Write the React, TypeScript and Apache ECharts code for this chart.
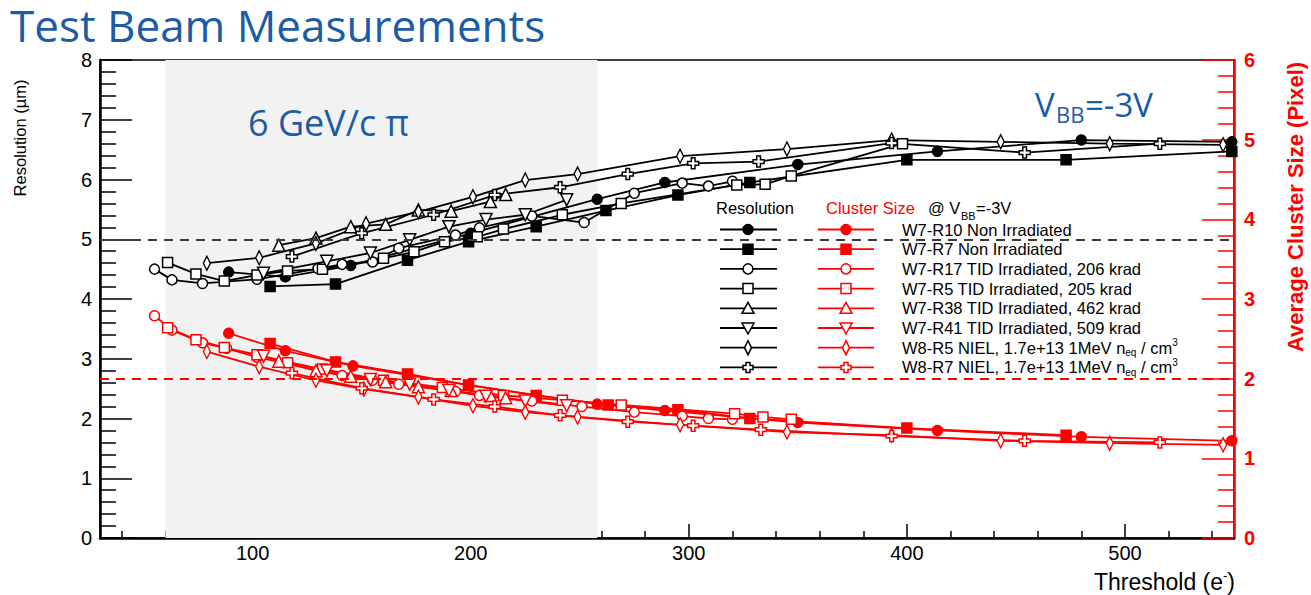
import React, { useEffect, useRef } from 'react';
import * as echarts from 'echarts';

// ---------- data ----------
const xTicks = [100, 200, 300, 400, 500];
const xMinorTicks = [40, 60, 80, 120, 140, 160, 180, 220, 240, 260, 280, 320, 340, 360, 380, 420, 440, 460, 480, 520, 540];
const shadedRange = [60, 258];
const resolutionCut = 5;
const clusterCut = 2;

// Resolution (um), left axis
const resR10 = [[89, 4.45], [115, 4.37], [145, 4.56], [200, 5.10], [258, 5.67], [289, 5.95], [350, 6.25], [414, 6.47], [480, 6.66], [549, 6.63]];
const resR7 = [[108, 4.21], [138, 4.25], [171, 4.65], [199, 4.96], [230, 5.21], [262, 5.48], [295, 5.74], [328, 5.95], [400, 6.33], [473, 6.33], [549, 6.47]];
const resR17 = [[55, 4.50], [63, 4.32], [77, 4.26], [102, 4.33], [130, 4.51], [141, 4.58], [155, 4.62], [167, 4.85], [193, 5.07], [204, 5.19], [228, 5.39], [252, 5.28], [275, 5.77], [297, 5.94], [309, 5.89], [320, 5.97]];
const resR5 = [[61, 4.61], [74, 4.42], [87, 4.30], [102, 4.40], [116, 4.47], [132, 4.50], [160, 4.68], [174, 4.79], [188, 4.96], [203, 5.04], [215, 5.17], [242, 5.41], [269, 5.60], [322, 5.91], [335, 5.92], [347, 6.06], [398, 6.60]];
const resR38 = [[112, 4.90], [129, 5.02], [145, 5.21], [161, 5.25], [176, 5.49], [191, 5.47], [209, 5.63], [216, 5.75]];
const resR41 = [[105, 4.43], [134, 4.63], [154, 4.77], [172, 4.99], [190, 5.21], [207, 5.33], [225, 5.41], [244, 5.66]];
const resW8R5 = [[79, 4.60], [103, 4.69], [129, 4.93], [152, 5.26], [176, 5.46], [201, 5.71], [225, 5.99], [249, 6.09], [296, 6.39], [345, 6.51], [393, 6.66], [443, 6.63], [493, 6.60], [545, 6.58]];
const resW8R7 = [[118, 4.71], [150, 5.10], [183, 5.41], [211, 5.74], [241, 5.87], [272, 6.09], [302, 6.27], [332, 6.30], [393, 6.61], [454, 6.45], [516, 6.60]];

// Average cluster size (pixel), right axis
const csR10 = [[89, 2.57], [115, 2.35], [146, 2.16], [199, 1.92], [258, 1.68], [289, 1.60], [350, 1.45], [414, 1.35], [480, 1.27], [549, 1.22]];
const csR7 = [[108, 2.44], [138, 2.21], [171, 2.06], [199, 1.92], [230, 1.79], [263, 1.67], [295, 1.61], [328, 1.50], [400, 1.38], [473, 1.29]];
const csR17 = [[55, 2.79], [63, 2.61], [77, 2.45], [88, 2.38], [102, 2.27], [130, 2.10], [141, 2.04], [155, 1.98], [167, 1.93], [193, 1.84], [204, 1.79], [228, 1.72], [251, 1.65], [275, 1.58], [297, 1.53], [309, 1.50], [320, 1.49]];
const csR5 = [[61, 2.64], [74, 2.49], [87, 2.39], [102, 2.30], [116, 2.20], [132, 2.12], [160, 1.98], [187, 1.89], [215, 1.79], [242, 1.73], [269, 1.67], [321, 1.56], [334, 1.52], [347, 1.49]];
const csR38 = [[112, 2.22], [129, 2.10], [145, 2.03], [161, 1.96], [176, 1.90], [191, 1.85], [209, 1.79], [216, 1.76]];
const csR41 = [[105, 2.28], [134, 2.10], [154, 1.99], [172, 1.93], [190, 1.85], [207, 1.78], [225, 1.72], [244, 1.66]];
const csW8R5 = [[79, 2.34], [103, 2.15], [129, 1.98], [151, 1.87], [176, 1.77], [201, 1.66], [225, 1.58], [249, 1.52], [296, 1.42], [345, 1.33], [393, 1.29], [443, 1.22], [493, 1.19], [545, 1.17]];
const csW8R7 = [[118, 2.07], [150, 1.88], [183, 1.74], [211, 1.65], [241, 1.54], [272, 1.46], [302, 1.41], [333, 1.36], [393, 1.28], [454, 1.22], [516, 1.20]];

const sampleNames = [
  'W7-R10 Non Irradiated',
  'W7-R7 Non Irradiated',
  'W7-R17 TID Irradiated, 206 krad',
  'W7-R5 TID Irradiated, 205 krad',
  'W7-R38 TID Irradiated, 462 krad',
  'W7-R41 TID Irradiated, 509 krad',
  'W8-R5 NIEL, 1.7e+13 1MeV n',
  'W8-R7 NIEL, 1.7e+13 1MeV n',
];
const sampleMarkers = ['fc', 'fs', 'oc', 'os', 'tu', 'td', 'di', 'cr'];
const resolutionData = [resR10, resR7, resR17, resR5, resR38, resR41, resW8R5, resW8R7];
const clusterData = [csR10, csR7, csR17, csR5, csR38, csR41, csW8R5, csW8R7];

// ---------- style ----------
const FONT = '"Liberation Sans", Arial, Helvetica, sans-serif';
const TITLE_FONT = '"Open Sans", "Noto Sans", sans-serif';
const BLUE = '#1c5ca6';
const RED = '#ff0000';
const BLACK = '#000000';
const CROSS_PATH = 'path://M4,0L8,0L8,4L12,4L12,8L8,8L8,12L4,12L4,8L0,8L0,4L4,4Z';

function symbolFor(kind: string) {
  switch (kind) {
    case 'fc': return { symbol: 'circle', symbolSize: 10, filled: true };
    case 'fs': return { symbol: 'rect', symbolSize: 10, filled: true };
    case 'oc': return { symbol: 'circle', symbolSize: 10, filled: false };
    case 'os': return { symbol: 'rect', symbolSize: 10, filled: false };
    case 'tu': return { symbol: 'triangle', symbolSize: 12, filled: false };
    case 'td': return { symbol: 'triangle', symbolSize: 12, filled: false, rotate: 180 };
    case 'di': return { symbol: 'diamond', symbolSize: [7, 14], filled: false };
    default: return { symbol: CROSS_PATH, symbolSize: 11, filled: false };
  }
}

function makeSeries(name: string, data: number[][], kind: string, color: string, yAxisIndex: number, z: number) {
  const s = symbolFor(kind);
  return {
    type: 'line',
    name,
    data,
    xAxisIndex: 0,
    yAxisIndex,
    z,
    symbol: s.symbol,
    symbolSize: s.symbolSize,
    symbolRotate: (s as any).rotate || 0,
    showSymbol: true,
    showAllSymbol: true,
    clip: true,
    silent: true,
    lineStyle: { color, width: 1.8 },
    itemStyle: { color: s.filled ? color : '#ffffff', borderColor: color, borderWidth: 1.5, opacity: 1 },
  };
}

function legendMarker(kind: string, cx: number, cy: number, color: string): any {
  const filled = kind === 'fc' || kind === 'fs';
  const style = { fill: filled ? color : '#ffffff', stroke: color, lineWidth: 1.5 };
  switch (kind) {
    case 'fc':
    case 'oc':
      return { type: 'circle', shape: { cx, cy, r: 5 }, style, z: 101 };
    case 'fs':
    case 'os':
      return { type: 'rect', shape: { x: cx - 5, y: cy - 5, width: 10, height: 10 }, style, z: 101 };
    case 'tu':
      return { type: 'polygon', shape: { points: [[cx, cy - 6], [cx + 6, cy + 5], [cx - 6, cy + 5]] }, style, z: 101 };
    case 'td':
      return { type: 'polygon', shape: { points: [[cx, cy + 6], [cx + 6, cy - 5], [cx - 6, cy - 5]] }, style, z: 101 };
    case 'di':
      return { type: 'polygon', shape: { points: [[cx, cy - 7], [cx + 3.5, cy], [cx, cy + 7], [cx - 3.5, cy]] }, style, z: 101 };
    default:
      return {
        type: 'polygon',
        shape: {
          points: [[cx - 2, cy - 5], [cx + 2, cy - 5], [cx + 2, cy - 2], [cx + 5, cy - 2], [cx + 5, cy + 2], [cx + 2, cy + 2],
            [cx + 2, cy + 5], [cx - 2, cy + 5], [cx - 2, cy + 2], [cx - 5, cy + 2], [cx - 5, cy - 2], [cx - 2, cy - 2]],
        },
        style, z: 101,
      };
  }
}

function buildGraphics(): any[] {
  const g: any[] = [];
  // titles
  g.push({ type: 'text', x: 10, y: 25, z: 100, style: { text: 'Test Beam Measurements', font: `44px ${TITLE_FONT}`, lineHeight: 40, fill: BLUE, verticalAlign: 'middle' } });
  g.push({ type: 'text', x: 248, y: 122, z: 100, style: { text: '6 GeV/c \u03c0', font: `36px ${TITLE_FONT}`, fill: BLUE, verticalAlign: 'middle' } });
  g.push({ type: 'text', x: 1035, y: 104, z: 100, style: { text: 'V', font: `33px ${TITLE_FONT}`, fill: BLUE, verticalAlign: 'middle' } });
  g.push({ type: 'text', x: 1056, y: 114, z: 100, style: { text: 'BB', font: `22px ${TITLE_FONT}`, fill: BLUE, verticalAlign: 'middle' } });
  g.push({ type: 'text', x: 1085, y: 104, z: 100, style: { text: '=-3V', font: `33px ${TITLE_FONT}`, fill: BLUE, verticalAlign: 'middle' } });

  // axis titles
  g.push({ type: 'text', x: 20, y: 138, rotation: Math.PI / 2, z: 100, style: { text: 'Resolution (\u00b5m)', font: `16.5px ${FONT}`, fill: BLACK, align: 'center', verticalAlign: 'middle' } });
  g.push({ type: 'text', x: 1295, y: 207, rotation: Math.PI / 2, z: 100, style: { text: 'Average Cluster Size (Pixel)', font: `bold 22px ${FONT}`, fill: RED, align: 'center', verticalAlign: 'middle' } });
  g.push({
    type: 'text', x: 1235, y: 582, z: 100,
    style: {
      text: '{a|Threshold (e}{p|-}{a|)}', align: 'right', verticalAlign: 'middle',
      rich: {
        a: { fontSize: 23, fontFamily: FONT, fill: BLACK, lineHeight: 26, verticalAlign: 'middle' },
        p: { fontSize: 13, fontFamily: FONT, fill: BLACK, lineHeight: 14, verticalAlign: 'top' },
      },
    },
  });

  // legend header
  const hy = 208;
  g.push({ type: 'text', x: 716, y: hy, z: 100, style: { text: 'Resolution', font: `16.5px ${FONT}`, fill: BLACK, verticalAlign: 'middle' } });
  g.push({ type: 'text', x: 826, y: hy, z: 100, style: { text: 'Cluster Size', font: `16.5px ${FONT}`, fill: RED, verticalAlign: 'middle' } });
  g.push({ type: 'text', x: 928, y: hy, z: 100, style: { text: '@ V', font: `16.5px ${FONT}`, fill: BLACK, verticalAlign: 'middle' } });
  g.push({ type: 'text', x: 961, y: hy + 8, z: 100, style: { text: 'BB', font: `11px ${FONT}`, fill: BLACK, verticalAlign: 'middle' } });
  g.push({ type: 'text', x: 976, y: hy, z: 100, style: { text: '=-3V', font: `16.5px ${FONT}`, fill: BLACK, verticalAlign: 'middle' } });

  // legend rows
  sampleNames.forEach((name, i) => {
    const cy = 229.5 + i * 19.7;
    g.push({ type: 'line', z: 100, shape: { x1: 720, y1: cy, x2: 777, y2: cy }, style: { stroke: BLACK, lineWidth: 1.8 } });
    g.push(legendMarker(sampleMarkers[i], 748, cy, BLACK));
    g.push({ type: 'line', z: 100, shape: { x1: 818, y1: cy, x2: 874, y2: cy }, style: { stroke: RED, lineWidth: 1.8 } });
    g.push(legendMarker(sampleMarkers[i], 846, cy, RED));
    const isNiel = i >= 6;
    g.push({
      type: 'text', x: 902, y: cy, z: 100,
      style: {
        text: isNiel ? `{a|${name}}{s|eq}{a| / cm}{p|3}` : `{a|${name}}`,
        verticalAlign: 'middle',
        rich: {
          a: { fontSize: 16.5, fontFamily: FONT, fill: BLACK, lineHeight: 20, verticalAlign: 'middle' },
          s: { fontSize: 10, fontFamily: FONT, fill: BLACK, lineHeight: 11, verticalAlign: 'bottom' },
          p: { fontSize: 10, fontFamily: FONT, fill: BLACK, lineHeight: 11, verticalAlign: 'top' },
        },
      },
    });
  });
  return g;
}

function buildOption(): any {
  const series: any[] = [];
  clusterData.forEach((d, i) => series.push(makeSeries('cs-' + sampleNames[i], d, sampleMarkers[i], RED, 1, 3)));
  resolutionData.forEach((d, i) => series.push(makeSeries('res-' + sampleNames[i], d, sampleMarkers[i], BLACK, 0, 4)));

  // shaded region + resolution cut line on first resolution series
  series[8].markArea = {
    silent: true,
    itemStyle: { color: '#f2f2f2' },
    label: { show: false },
    data: [[{ xAxis: shadedRange[0] }, { xAxis: shadedRange[1] }]],
  };
  series[8].markLine = {
    silent: true, symbol: ['none', 'none'], label: { show: false },
    lineStyle: { color: '#3a3a3a', type: [9, 7], width: 2 },
    data: [{ yAxis: resolutionCut }],
  };
  series[0].markLine = {
    silent: true, symbol: ['none', 'none'], label: { show: false },
    lineStyle: { color: RED, type: [9, 7], width: 2 },
    data: [{ yAxis: clusterCut }],
  };

  const grid = { left: 100, top: 60, width: 1134, height: 478, show: true, backgroundColor: '#ffffff', borderColor: BLACK, borderWidth: 1.5 };

  return {
    animation: false,
    backgroundColor: '#ffffff',
    grid,
    graphic: buildGraphics(),
    xAxis: [
      {
        type: 'value', min: 30, max: 550, position: 'bottom', gridIndex: 0,
        axisLine: { show: true, onZero: false, lineStyle: { color: BLACK, width: 2.5 } },
        axisTick: { show: true, inside: true, length: 14, customValues: xTicks, lineStyle: { color: BLACK, width: 1.5 } },
        axisLabel: { show: true, customValues: xTicks, color: BLACK, fontSize: 20, fontFamily: FONT, margin: 5 },
        splitLine: { show: false },
      },
      {
        type: 'value', min: 30, max: 550, position: 'bottom', gridIndex: 0,
        axisLine: { show: false, onZero: false },
        axisTick: { show: true, inside: true, length: 7, customValues: xMinorTicks, lineStyle: { color: BLACK, width: 1.5 } },
        axisLabel: { show: false, customValues: xMinorTicks },
        splitLine: { show: false },
      },
    ],
    yAxis: [
      {
        type: 'value', min: 0, max: 8, interval: 1, position: 'left',
        axisLine: { show: true, onZero: false, lineStyle: { color: BLACK, width: 2.5 } },
        axisTick: { show: true, inside: true, length: 32, lineStyle: { color: BLACK, width: 1.5 } },
        minorTick: { show: true, splitNumber: 5, length: 16, lineStyle: { color: BLACK, width: 1.5 } },
        axisLabel: { color: BLACK, fontSize: 20, fontFamily: FONT, margin: 8 },
        splitLine: { show: false },
        minorSplitLine: { show: false },
      },
      {
        type: 'value', min: 0, max: 6, interval: 1, position: 'right',
        axisLine: { show: true, onZero: false, lineStyle: { color: RED, width: 2.5 } },
        axisTick: { show: true, inside: true, length: 32, lineStyle: { color: RED, width: 1.5 } },
        minorTick: { show: true, splitNumber: 5, length: 16, lineStyle: { color: RED, width: 1.5 } },
        axisLabel: { color: RED, fontSize: 20, fontWeight: 'bold', fontFamily: FONT, margin: 10 },
        splitLine: { show: false },
        minorSplitLine: { show: false },
      },
    ],
    series,
  };
}

export default function App() {
  const ref = useRef<HTMLDivElement>(null);
  useEffect(() => {
    if (!ref.current) return;
    const chart = echarts.init(ref.current, undefined, { renderer: 'svg' });
    chart.setOption(buildOption());
    return () => chart.dispose();
  }, []);
  return (
    <div
      ref={ref}
      style={{ position: 'fixed', left: 0, top: 0, width: 1311, height: 595, background: '#ffffff' }}
    />
  );
}
